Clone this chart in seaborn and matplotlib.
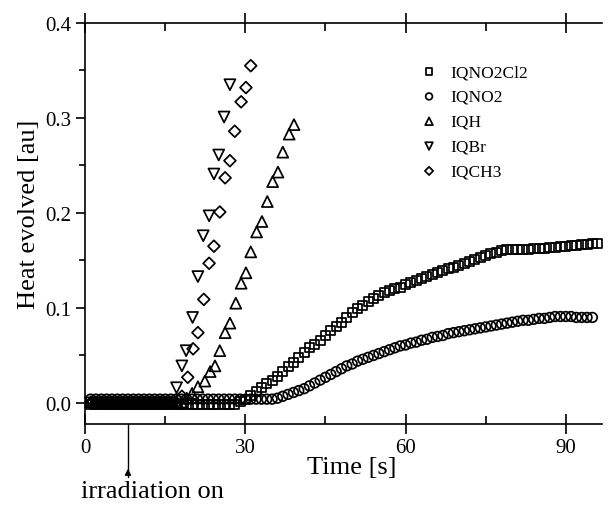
import matplotlib
matplotlib.use("Agg")
import matplotlib.pyplot as plt
import seaborn as sns
from matplotlib.ticker import MultipleLocator, FormatStrFormatter

# --- data (time in s, heat in au) ---
t_cl2 = list(range(1, 97))
y_cl2 = [-0.002] * 28 + [
    0.002, 0.004, 0.008, 0.012, 0.016, 0.020, 0.024, 0.028, 0.033, 0.038,
    0.043, 0.048, 0.053, 0.058, 0.062, 0.066, 0.071, 0.076, 0.080, 0.085,
    0.090, 0.095, 0.099, 0.103, 0.107, 0.110, 0.113, 0.116, 0.118, 0.120,
    0.122, 0.125, 0.127, 0.129, 0.131, 0.133, 0.135, 0.137, 0.139, 0.141,
    0.143, 0.145, 0.147, 0.149, 0.151, 0.153, 0.155, 0.157, 0.158, 0.160,
    0.161, 0.162, 0.162, 0.162, 0.162, 0.163, 0.163, 0.163, 0.164, 0.164,
    0.165, 0.165, 0.166, 0.166, 0.167, 0.167, 0.168, 0.168]

t_no2 = list(range(1, 96))
y_no2 = [0.004] * 35 + [
    0.005, 0.007, 0.009, 0.011, 0.013, 0.015, 0.018, 0.021, 0.024, 0.027,
    0.030, 0.033, 0.036, 0.039, 0.041, 0.044, 0.046, 0.048, 0.050, 0.052,
    0.054, 0.056, 0.058, 0.060, 0.061, 0.063, 0.064, 0.066, 0.067, 0.069,
    0.070, 0.071, 0.073, 0.074, 0.075, 0.076, 0.077, 0.078, 0.079, 0.080,
    0.081, 0.082, 0.083, 0.084, 0.085, 0.086, 0.087, 0.087, 0.088, 0.089,
    0.089, 0.090, 0.091, 0.091, 0.091, 0.091, 0.090, 0.090, 0.090, 0.090]

t_h = list(range(1, 21)) + [21.1, 22.4, 23.4, 24.3, 25.2, 26.2, 27.1, 28.2, 29.2,
                            30.1, 31.0, 32.1, 33.1, 34.1, 35.1, 36.1, 37.0, 38.2, 39.1]
y_h = [0.001] * 18 + [0.005, 0.010] + [
    0.017, 0.023, 0.033, 0.039, 0.055, 0.074, 0.084, 0.105, 0.126,
    0.137, 0.159, 0.180, 0.191, 0.212, 0.233, 0.243, 0.264, 0.283, 0.293]

t_br = list(range(1, 17)) + [17.1, 18.1, 18.9, 20.1, 21.1, 22.1, 23.2, 24.1, 25.0, 26.0, 27.1]
y_br = [0.0] * 16 + [0.016, 0.039, 0.055, 0.090, 0.133, 0.176, 0.197, 0.241, 0.261, 0.301, 0.335]

t_ch3 = list(range(1, 18)) + [18.1, 19.2, 20.2, 21.1, 22.2, 23.2, 24.1, 25.2, 26.2,
                              27.1, 28.0, 29.2, 30.1, 31.0]
y_ch3 = [0.0] * 17 + [0.007, 0.027, 0.057, 0.074, 0.109, 0.147, 0.165, 0.201, 0.237,
                      0.255, 0.286, 0.317, 0.332, 0.355]

series = [
    ("IQNO2Cl2", t_cl2, y_cl2, "s", 42),
    ("IQNO2", t_no2, y_no2, "o", 48),
    ("IQH", t_h, y_h, "^", 62),
    ("IQBr", t_br, y_br, "v", 62),
    ("IQCH3", t_ch3, y_ch3, "D", 36),
]

sns.set_style("ticks")
plt.rcParams["font.family"] = ["Liberation Serif", "DejaVu Serif"]
for k in ["text.color", "axes.labelcolor", "xtick.color", "ytick.color", "axes.edgecolor"]:
    plt.rcParams[k] = "black"

fig = plt.figure(figsize=(6.09, 5.10), dpi=100)
ax = fig.add_axes([0.140, 0.167, 0.8485, 0.786])

for name, t, y, mk, sz in series:
    sns.scatterplot(x=t, y=y, marker=mk, s=sz, facecolor="none", edgecolor="black",
                    linewidth=1.25, label=name, ax=ax, clip_on=False, zorder=3)

ax.set_xlim(0, 96.8)
ax.set_ylim(-0.022, 0.4)
ax.xaxis.set_major_locator(MultipleLocator(30))
ax.xaxis.set_minor_locator(MultipleLocator(15))
ax.yaxis.set_major_locator(MultipleLocator(0.1))
ax.yaxis.set_minor_locator(MultipleLocator(0.05))
ax.yaxis.set_major_formatter(FormatStrFormatter("%.1f"))

for s in ax.spines.values():
    s.set_linewidth(1.2)
ax.spines["right"].set_visible(False)

ax.tick_params(axis="x", which="major", direction="inout", length=14, width=1.2,
               top=True, labelsize=15, pad=3)
ax.tick_params(axis="x", which="minor", direction="in", length=6, width=1.2, top=True)
ax.tick_params(axis="y", which="major", direction="out", length=6.5, width=1.2, labelsize=15)
ax.tick_params(axis="y", which="minor", direction="out", length=4, width=1.2)

ax.set_xlabel("Time [s]", fontsize=19)
ax.set_ylabel("Heat evolved [au]", fontsize=19)
ax.xaxis.set_label_coords(0.516, -0.08)
ax.yaxis.set_label_coords(-0.088, 0.524)

leg = ax.legend(loc="upper left", bbox_to_anchor=(0.625, 0.915), frameon=False,
                fontsize=12.5, markerscale=0.7, handletextpad=0.4, handlelength=1.6,
                labelspacing=0.5, borderaxespad=0)

# irradiation marker below the axis
xt = ax.get_xaxis_transform()
ax.plot([8, 8], [0, -0.132], transform=xt, clip_on=False, color="black", lw=1)
ax.annotate("", xy=(8, -0.105), xytext=(8, -0.132), xycoords=xt, textcoords=xt,
            arrowprops=dict(arrowstyle="-|>", color="black", lw=1, mutation_scale=9))
ax.text(12.5, -0.167, "irradiation on", transform=xt, ha="center", va="center",
        fontsize=19)

fig.savefig("out.png", dpi=100)
